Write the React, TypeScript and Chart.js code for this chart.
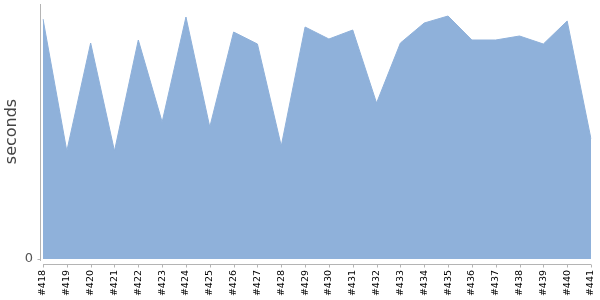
import React, { useEffect, useRef } from "react";
import { Chart, registerables } from "chart.js";

Chart.register(...registerables);

const categories = ["#418","#419","#420","#421","#422","#423","#424","#425","#426","#427","#428","#429","#430","#431","#432","#433","#434","#435","#436","#437","#438","#439","#440","#441"];
const durations = [240,108,216,108,219,137,242,132,227,215,113,232,220,229,156,216,236,243,219,219,223,215,238,120];
const yTicks = [0];
const yMax = 255;

const axisLines = {
  id: "axisLines",
  afterDraw(chart: any) {
    const { ctx, chartArea } = chart;
    const xs = chart.scales.x;
    const ys = chart.scales.y;
    ctx.save();
    ctx.strokeStyle = "#b4b4b4";
    ctx.lineWidth = 1;
    ctx.beginPath();
    const ax = Math.round(chartArea.left) - 2.5;
    ctx.moveTo(ax, chartArea.top);
    ctx.lineTo(ax, chartArea.bottom + 2);
    yTicks.forEach((v) => {
      const py = Math.round(ys.getPixelForValue(v)) + 0.5;
      ctx.moveTo(ax - 3, py);
      ctx.lineTo(ax, py);
    });
    const by = Math.round(chartArea.bottom) + 5.5;
    ctx.moveTo(chartArea.left, by);
    ctx.lineTo(chartArea.right, by);
    categories.forEach((_, i) => {
      const px = Math.round(xs.getPixelForValue(i)) + 0.5;
      ctx.moveTo(px, by);
      ctx.lineTo(px, by + 3);
    });
    ctx.stroke();
    ctx.restore();
  },
};

const zeroPad = (s: any) => {
  s.paddingTop = 0;
  s.paddingBottom = 0;
  s.paddingLeft = 0;
  s.paddingRight = 0;
};

export default function App() {
  const ref = useRef<HTMLCanvasElement>(null);
  useEffect(() => {
    document.body.style.margin = "0";
    const chart = new Chart(ref.current!, {
      type: "line",
      data: {
        labels: categories,
        datasets: [
          {
            data: durations,
            fill: "origin",
            backgroundColor: "rgb(143,177,218)",
            borderColor: "rgb(143,177,218)",
            borderWidth: 1,
            pointRadius: 0,
            tension: 0,
          },
        ],
      },
      options: {
        animation: false,
        responsive: false,
        layout: { padding: { top: 4, right: 9, left: 0, bottom: 0 } },
        plugins: { legend: { display: false }, tooltip: { enabled: false } },
        scales: {
          x: {
            offset: false,
            grid: { display: false, drawTicks: false },
            border: { display: false },
            ticks: {
              autoSkip: false,
              maxRotation: 90,
              minRotation: 90,
              padding: 11,
              color: "#000",
              font: { family: "DejaVu Sans", size: 9.5 },
            },
            afterFit: (s: any) => { s.height = 41; zeroPad(s); },
          },
          y: {
            min: 0,
            max: yMax,
            grid: { display: false, drawTicks: false },
            border: { display: false },
            afterBuildTicks: (s: any) => { s.ticks = yTicks.map((v) => ({ value: v })); },
            ticks: {
              padding: 10,
              color: "#555",
              font: { family: "DejaVu Sans", size: 13 },
            },
            title: {
              display: true,
              text: "seconds",
              color: "#444",
              padding: { top: 2, bottom: 0 },
              font: { family: "DejaVu Sans", size: 16 },
            },
            afterFit: (s: any) => { s.width = 43; zeroPad(s); },
          },
        },
      },
      plugins: [axisLines],
    });
    return () => chart.destroy();
  }, []);
  return (
    <div style={{ width: 600, height: 300 }}>
      <canvas ref={ref} width={600} height={300} />
    </div>
  );
}
